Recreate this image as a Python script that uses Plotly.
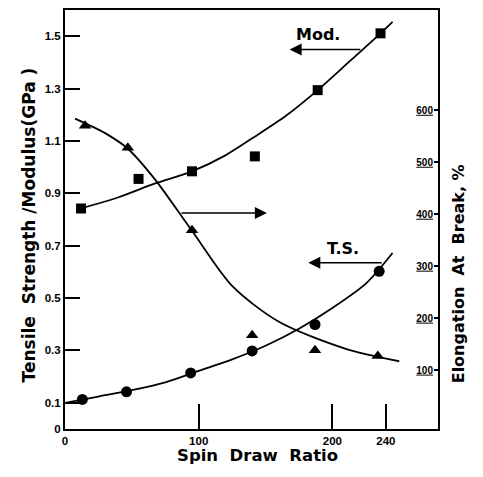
import plotly.graph_objects as go

# ---- data ----
ts_x = [13, 46, 94, 140, 187, 235]
ts_y = [0.113, 0.142, 0.214, 0.298, 0.399, 0.602]

mod_x = [12, 55, 95, 142, 189, 236]
mod_y = [0.842, 0.955, 0.984, 1.041, 1.294, 1.511]

el_x = [15, 47, 95, 140, 187, 234]
el_y = [570, 528, 369, 167, 138, 127]

# smooth fitted curves
ts_fit_x = [0, 25, 50, 75, 100, 125, 150, 175, 200, 225, 245]
ts_fit_y = [0.100, 0.124, 0.148, 0.178, 0.222, 0.266, 0.318, 0.383, 0.462, 0.555, 0.672]

mod_fit_x = [12, 40, 67, 95, 120, 140, 165, 189, 212, 236, 245]
mod_fit_y = [0.842, 0.885, 0.937, 0.984, 1.045, 1.110, 1.195, 1.294, 1.400, 1.511, 1.555]

el_fit_x = [7.5, 30, 47, 67, 95, 125, 160, 210, 250]
el_fit_y = [584, 556, 526, 468, 368, 262, 193, 141, 117]

x_ticks = [0, 100, 200, 240]
y_ticks = [0, 0.1, 0.3, 0.5, 0.7, 0.9, 1.1, 1.3, 1.5]
y_ticklabels = ["0", "0.1", "0.3", "0.5", "0.7", "0.9", "1.1", "1.3", "1.5"]
y2_ticks = [100, 200, 300, 400, 500, 600]

FONT = "Liberation Sans, Arial, sans-serif"
TFONT = "DejaVu Sans, Liberation Sans, sans-serif"
BLK = "black"

fig = go.Figure()

line = dict(color=BLK, width=1.8, shape="spline", smoothing=0.8)
fig.add_trace(go.Scatter(x=ts_fit_x, y=ts_fit_y, mode="lines", line=line, hoverinfo="skip"))
fig.add_trace(go.Scatter(x=mod_fit_x, y=mod_fit_y, mode="lines", line=line, hoverinfo="skip"))
fig.add_trace(go.Scatter(x=el_fit_x, y=el_fit_y, mode="lines", line=line, yaxis="y2", hoverinfo="skip"))

fig.add_trace(go.Scatter(x=ts_x, y=ts_y, mode="markers",
                         marker=dict(symbol="circle", size=11, color=BLK)))
fig.add_trace(go.Scatter(x=mod_x, y=mod_y, mode="markers",
                         marker=dict(symbol="square", size=10, color=BLK)))
fig.add_trace(go.Scatter(x=el_x, y=el_y, mode="markers", yaxis="y2",
                         marker=dict(symbol="triangle-up", size=11, color=BLK)))

tickfont = dict(family=FONT, size=11.5, color=BLK)

fig.update_layout(
    width=483, height=477,
    margin=dict(l=65, r=45, t=8, b=48),
    paper_bgcolor="white", plot_bgcolor="white",
    showlegend=False,
    font=dict(family=FONT, color=BLK),
    xaxis=dict(range=[0, 279], tickvals=x_ticks, ticktext=[f"<b>{v}</b>" for v in x_ticks],
               ticks="inside", ticklen=25, tickwidth=1.5, tickcolor=BLK,
               showline=True, linewidth=2, linecolor=BLK, mirror=True,
               showgrid=False, zeroline=False, tickfont=tickfont),
    yaxis=dict(range=[0, 1.6], tickvals=y_ticks, ticktext=[f"<b>{t}</b>" for t in y_ticklabels],
               ticks="inside", ticklen=15, tickwidth=1.5, tickcolor=BLK,
               showline=True, linewidth=2, linecolor=BLK, mirror=True,
               showgrid=False, zeroline=False, tickfont=tickfont),
    yaxis2=dict(range=[-13.4, 793], overlaying="y", side="right",
                tickvals=y2_ticks, ticktext=[f"<b><u>{v}</u></b>" for v in y2_ticks],
                ticks="inside", ticklen=4, tickwidth=1.5, tickcolor=BLK,
                ticklabelposition="inside", showline=False,
                showgrid=False, zeroline=False,
                tickfont=dict(family=FONT, size=10, color=BLK)),
)

ann = []
# axis titles
ann.append(dict(text="<b>Spin  Draw  Ratio</b>", xref="paper", yref="paper",
                x=0.515, y=-0.09, showarrow=False, font=dict(size=16.5, family=TFONT)))
ann.append(dict(text="<b>Tensile  Strength /Modulus(GPa )</b>", xref="paper", yref="paper",
                x=-0.13, y=0.487, textangle=-90, showarrow=False, font=dict(size=17, family=TFONT)))
ann.append(dict(text="<b>Elongation  At  Break, %</b>", xref="paper", yref="paper",
                x=1.088, y=0.37, textangle=-90, showarrow=False, font=dict(size=16, family=TFONT)))
# labels
ann.append(dict(text="<b>Mod.</b>", x=189, y=1.506, xref="x", yref="y", showarrow=False,
                font=dict(size=16, family=TFONT)))
ann.append(dict(text="<b>T.S.</b>", x=208, y=0.688, xref="x", yref="y", showarrow=False,
                font=dict(size=16, family=TFONT)))
# arrows
for (x0, x1, y) in [(222, 168, 1.449), (86, 151, 0.825), (238, 182, 0.635)]:
    ann.append(dict(x=x1, y=y, ax=x0, ay=y, xref="x", yref="y", axref="x", ayref="y",
                    text="", showarrow=True, arrowhead=2, arrowsize=1.6, arrowwidth=1.5,
                    arrowcolor=BLK))
fig.update_layout(annotations=ann)

fig.write_html("out.html")
